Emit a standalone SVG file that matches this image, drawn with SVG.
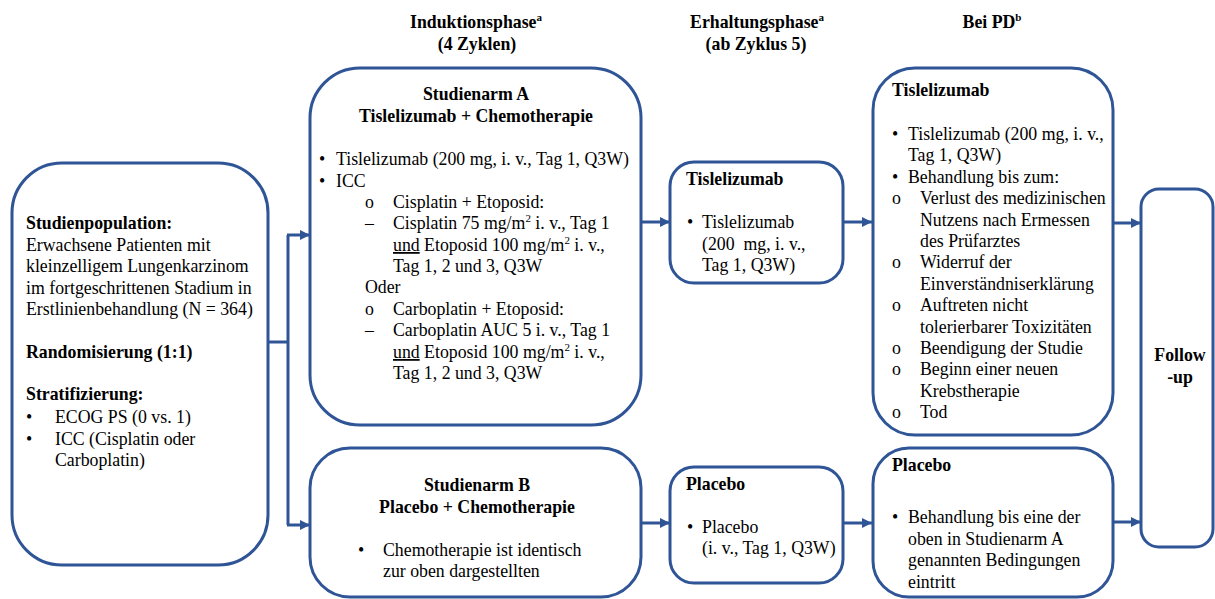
<svg xmlns="http://www.w3.org/2000/svg" width="1215" height="599" viewBox="0 0 1215 599">
<defs>
<style>
.box{fill:#fff;stroke:#2F5597;stroke-width:3}
.ln{fill:none;stroke:#2F5597;stroke-width:3}
text{font-family:"Liberation Serif","Times New Roman",serif;font-size:17.8px;fill:#000}
.b{font-weight:bold}
.c{text-anchor:middle}
.sup{font-size:11px}
</style>
<marker id="ah" viewBox="0 0 10 10" refX="10" refY="5" markerWidth="10" markerHeight="10" markerUnits="userSpaceOnUse" orient="auto">
<path d="M0,0 L10,5 L0,10 z" fill="#2F5597"/>
</marker>
</defs>
<rect width="1215" height="599" fill="#fff"/>

<g id="headers">
<text class="b c" x="476" y="28">Induktionsphase<tspan class="sup" dy="-7">a</tspan></text>
<text class="b c" x="477" y="50">(4 Zyklen)</text>
<text class="b c" x="757" y="28">Erhaltungsphase<tspan class="sup" dy="-7">a</tspan></text>
<text class="b c" x="756" y="50">(ab Zyklus 5)</text>
<text class="b c" x="992" y="28">Bei PD<tspan class="sup" dy="-7">b</tspan></text>
</g>

<g id="connectors">
<polyline class="ln" points="268,342 288,342"/>
<polyline class="ln" points="288,235 288,525"/>
<line class="ln" x1="287" y1="235" x2="310" y2="235" marker-end="url(#ah)"/>
<line class="ln" x1="287" y1="525" x2="310" y2="525" marker-end="url(#ah)"/>
<line class="ln" x1="641" y1="222" x2="670" y2="222" marker-end="url(#ah)"/>
<line class="ln" x1="843" y1="222" x2="872" y2="222" marker-end="url(#ah)"/>
<line class="ln" x1="1113" y1="223" x2="1141" y2="223" marker-end="url(#ah)"/>
<line class="ln" x1="641" y1="523" x2="670" y2="523" marker-end="url(#ah)"/>
<line class="ln" x1="843" y1="523" x2="872" y2="523" marker-end="url(#ah)"/>
<line class="ln" x1="1113" y1="522" x2="1141" y2="522" marker-end="url(#ah)"/>
</g>

<g id="population">
<rect class="box" x="12" y="163" width="256" height="402" rx="50"/>
<text class="b" x="26" y="229">Studienpopulation:</text>
<text x="26" y="251">Erwachsene Patienten mit</text>
<text x="26" y="272">kleinzelligem Lungenkarzinom</text>
<text x="26" y="294">im fortgeschrittenen Stadium in</text>
<text x="26" y="315">Erstlinienbehandlung (N = 364)</text>
<text class="b" x="26" y="358">Randomisierung (1:1)</text>
<text class="b" x="26" y="400">Stratifizierung:</text>
<text x="26" y="423">•</text><text x="55" y="423">ECOG PS (0 vs. 1)</text>
<text x="26" y="445">•</text><text x="55" y="445">ICC (Cisplatin oder</text>
<text x="55" y="466">Carboplatin)</text>
</g>

<g id="armA">
<rect class="box" x="310" y="68" width="331" height="357" rx="50"/>
<text class="b c" x="476" y="100">Studienarm A</text>
<text class="b c" x="476" y="122">Tislelizumab + Chemotherapie</text>
<text x="319" y="165">•</text><text x="336" y="165">Tislelizumab (200 mg, i. v., Tag 1, Q3W)</text>
<text x="319" y="187">•</text><text x="336" y="187">ICC</text>
<text x="365" y="208">o</text><text x="393" y="208">Cisplatin + Etoposid:</text>
<text x="365" y="229">–</text><text x="393" y="229">Cisplatin 75 mg/m<tspan class="sup" dy="-7">2</tspan><tspan dy="7"> i. v., Tag 1</tspan></text>
<text x="393" y="251"><tspan text-decoration="underline">und</tspan> Etoposid 100 mg/m<tspan class="sup" dy="-7">2</tspan><tspan dy="7"> i. v.,</tspan></text>
<text x="393" y="272">Tag 1, 2 und 3, Q3W</text>
<text x="365" y="293">Oder</text>
<text x="365" y="315">o</text><text x="393" y="315">Carboplatin + Etoposid:</text>
<text x="365" y="336">–</text><text x="393" y="336">Carboplatin AUC 5 i. v., Tag 1</text>
<text x="393" y="358"><tspan text-decoration="underline">und</tspan> Etoposid 100 mg/m<tspan class="sup" dy="-7">2</tspan><tspan dy="7"> i. v.,</tspan></text>
<text x="393" y="379">Tag 1, 2 und 3, Q3W</text>
</g>

<g id="armB">
<rect class="box" x="310" y="448" width="331" height="149" rx="40"/>
<text class="b c" x="477" y="491">Studienarm B</text>
<text class="b c" x="477" y="513">Placebo + Chemotherapie</text>
<text x="358" y="556">•</text><text x="383" y="556">Chemotherapie ist identisch</text>
<text x="383" y="577">zur oben dargestellten</text>
</g>

<g id="maintA">
<rect class="box" x="670" y="162" width="173" height="121" rx="24"/>
<text class="b" x="686" y="185">Tislelizumab</text>
<text x="687" y="228">•</text><text x="702" y="228">Tislelizumab</text>
<text x="702" y="250">(200&#160; mg, i. v.,</text>
<text x="702" y="271">Tag 1, Q3W)</text>
</g>

<g id="maintB">
<rect class="box" x="670" y="467" width="173" height="116" rx="24"/>
<text class="b" x="686" y="490">Placebo</text>
<text x="687" y="533">•</text><text x="702" y="533">Placebo</text>
<text x="702" y="554">(i. v., Tag 1, Q3W)</text>
</g>

<g id="pdA">
<rect class="box" x="873" y="68" width="240" height="367" rx="42"/>
<text class="b" x="892" y="96">Tislelizumab</text>
<text x="892" y="140">•</text><text x="908" y="140">Tislelizumab (200 mg, i. v.,</text>
<text x="908" y="161">Tag 1, Q3W)</text>
<text x="892" y="183">•</text><text x="908" y="183">Behandlung bis zum:</text>
<text x="892" y="204">o</text><text x="920" y="204">Verlust des medizinischen</text>
<text x="920" y="226">Nutzens nach Ermessen</text>
<text x="920" y="247">des Prüfarztes</text>
<text x="892" y="268">o</text><text x="920" y="268">Widerruf der</text>
<text x="920" y="290">Einverständniserklärung</text>
<text x="892" y="311">o</text><text x="920" y="311">Auftreten nicht</text>
<text x="920" y="333">tolerierbarer Toxizitäten</text>
<text x="892" y="354">o</text><text x="920" y="354">Beendigung der Studie</text>
<text x="892" y="375">o</text><text x="920" y="375">Beginn einer neuen</text>
<text x="920" y="397">Krebstherapie</text>
<text x="892" y="418">o</text><text x="920" y="418">Tod</text>
</g>

<g id="pdB">
<rect class="box" x="873" y="448" width="240" height="149" rx="36"/>
<text class="b" x="892" y="471">Placebo</text>
<text x="892" y="523">•</text><text x="908" y="523">Behandlung bis eine der</text>
<text x="908" y="545">oben in Studienarm A</text>
<text x="908" y="566">genannten Bedingungen</text>
<text x="908" y="588">eintritt</text>
</g>

<g id="followup">
<rect class="box" x="1141" y="189" width="72" height="358" rx="18"/>
<text class="b c" x="1180" y="361">Follow</text>
<text class="b c" x="1180" y="383">-up</text>
</g>
</svg>
